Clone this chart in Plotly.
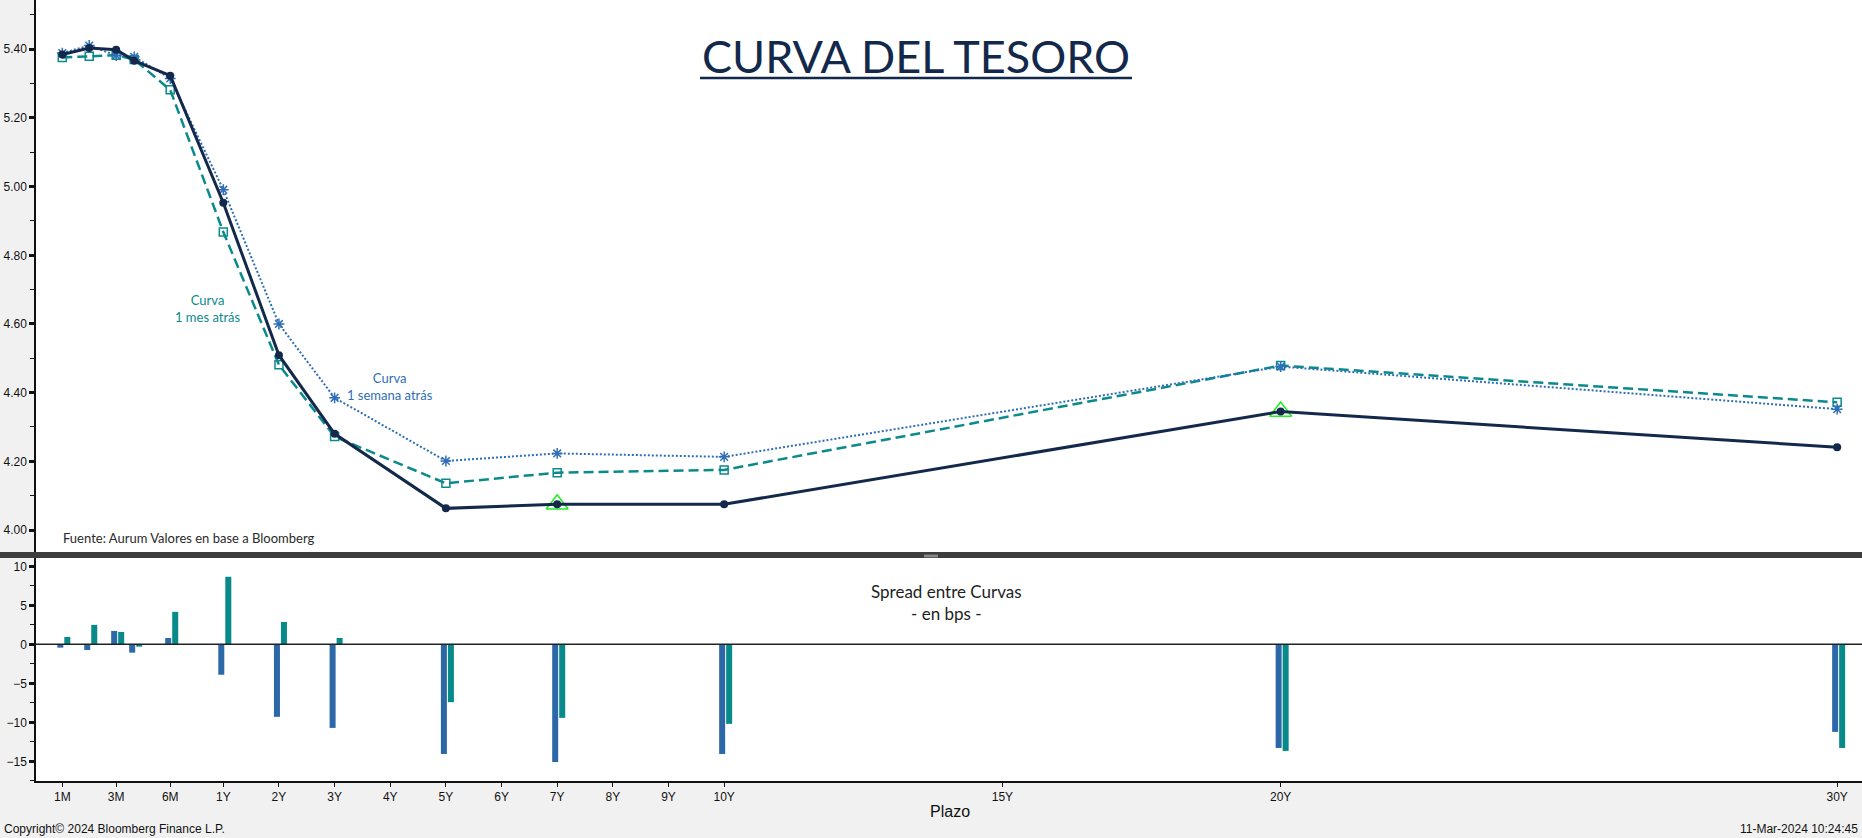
import plotly.graph_objects as go

# ---------------- data ----------------
tenor_labels = ["1M", "2M", "3M", "4M", "6M", "1Y", "2Y", "3Y", "5Y", "7Y", "10Y", "20Y", "30Y"]
tenor_months = [1, 2, 3, 4, 6, 12, 24, 36, 60, 84, 120, 240, 360]

curve_now = [5.385, 5.404, 5.399, 5.367, 5.323, 4.953, 4.509, 4.280, 4.063, 4.075, 4.075, 4.345, 4.241]
curve_1w = [5.389, 5.411, 5.382, 5.378, 5.315, 4.991, 4.600, 4.385, 4.201, 4.223, 4.213, 4.476, 4.352]
curve_1m = [5.376, 5.380, 5.383, 5.370, 5.282, 4.868, 4.481, 4.272, 4.136, 4.167, 4.175, 4.479, 4.372]

spread_1w = [-0.43, -0.73, 1.71, -1.07, 0.81, -3.90, -9.30, -10.72, -14.06, -15.09, -14.06, -13.29, -11.23]
spread_1m = [0.94, 2.49, 1.59, -0.30, 4.16, 8.66, 2.87, 0.81, -7.42, -9.43, -10.20, -13.67, -13.29]

marked_tenors = ["7Y", "20Y"]

axis_tick_labels = ["1M", "3M", "6M", "1Y", "2Y", "3Y", "4Y", "5Y", "6Y", "7Y", "8Y", "9Y", "10Y", "15Y", "20Y", "30Y"]
axis_tick_months = [1, 3, 6, 12, 24, 36, 48, 60, 72, 84, 96, 108, 120, 180, 240, 360]

top_yticks = [4.0, 4.2, 4.4, 4.6, 4.8, 5.0, 5.2, 5.4]
bottom_yticks = [-15, -10, -5, 0, 5, 10]

# ---------------- tenor scale (Bloomberg-like piecewise spacing) ----------------
ANCHORS = [(1, -1.893), (3, -0.925), (6, 0.046), (12, 1.0)]


def tenor_scale(m):
    if m >= 12:
        return m / 12.0
    for (m0, p0), (m1, p1) in zip(ANCHORS[:-1], ANCHORS[1:]):
        if m0 <= m <= m1:
            return p0 + (p1 - p0) * (m - m0) / (m1 - m0)
    return ANCHORS[0][1]


x_pos = [tenor_scale(m) for m in tenor_months]
tick_pos = [tenor_scale(m) for m in axis_tick_months]
mark_idx = [tenor_labels.index(t) for t in marked_tenors]

# ---------------- layout helpers ----------------
W, H = 1862, 838
ML, MB = 36, 57
PW, PH = W - ML, H - MB


def pxx(px):
    return (px - ML) / PW


def pxy(py):
    return (PH - py) / PH


C_NOW = "#13294b"
C_1W = "#2f6eb5"
C_1M = "#0b8a8c"
C_BAR_W = "#2c68a8"
C_BAR_M = "#078a89"
TXT_FONT = "Lato"
AX_FONT = "Liberation Sans"

fig = go.Figure()

# top panel lines
fig.add_trace(go.Scatter(
    x=x_pos, y=curve_1m, mode="lines+markers", name="Curva 1 mes atrás",
    line=dict(color=C_1M, width=2.5, dash="10px,5px"),
    marker=dict(symbol="square-open", size=8, color=C_1M, line=dict(width=1.5, color=C_1M)),
    xaxis="x", yaxis="y"))
fig.add_trace(go.Scatter(
    x=x_pos, y=curve_1w, mode="lines+markers", name="Curva 1 semana atrás",
    line=dict(color=C_1W, width=2, dash="2px,2px"),
    marker=dict(symbol="asterisk-open", size=9, color=C_1W, line=dict(width=1.5, color=C_1W)),
    xaxis="x", yaxis="y"))
fig.add_trace(go.Scatter(
    x=[x_pos[i] for i in mark_idx], y=[curve_now[i] for i in mark_idx], mode="markers",
    marker=dict(symbol="triangle-up-open", size=19, color="#1ef01e", line=dict(width=1.5, color="#1ef01e")),
    xaxis="x", yaxis="y", showlegend=False))
fig.add_trace(go.Scatter(
    x=x_pos, y=curve_now, mode="lines+markers", name="Curva actual",
    line=dict(color=C_NOW, width=3),
    marker=dict(symbol="circle", size=8, color=C_NOW),
    xaxis="x", yaxis="y"))

# bottom panel bars
BAR_W = 0.108
fig.add_trace(go.Bar(
    x=x_pos, y=spread_1w, width=BAR_W, offset=-0.09, marker=dict(color=C_BAR_W, line=dict(width=0)),
    xaxis="x2", yaxis="y2", name="Spread 1 semana"))
fig.add_trace(go.Bar(
    x=x_pos, y=spread_1m, width=BAR_W, offset=0.036, marker=dict(color=C_BAR_M, line=dict(width=0)),
    xaxis="x2", yaxis="y2", name="Spread 1 mes"))

x_range = [1 - (223.3 - ML) / 55.65, 1 + (W - 223.3) / 55.65]

shapes = [
    # separator band between panels
    dict(type="rect", xref="paper", yref="paper", x0=pxx(0), x1=1.0, y0=pxy(558), y1=pxy(552),
         fillcolor="#3d3d3d", line=dict(width=0), layer="above"),
    dict(type="line", xref="paper", yref="paper", x0=pxx(924), x1=pxx(938), y0=pxy(555.2), y1=pxy(555.2),
         line=dict(color="#a8a8a8", width=1), layer="above"),
    dict(type="line", xref="paper", yref="paper", x0=pxx(924), x1=pxx(938), y0=pxy(556.8), y1=pxy(556.8),
         line=dict(color="#a8a8a8", width=1), layer="above"),
    # title underline
    dict(type="line", xref="paper", yref="paper", x0=pxx(700), x1=pxx(1132), y0=pxy(78), y1=pxy(78),
         line=dict(color=C_NOW, width=2.5)),
    # zero line in bottom panel
    dict(type="line", xref="paper", yref="y2", x0=0, x1=1, y0=0, y1=0,
         line=dict(color="#222222", width=1.5), layer="above"),
]

annotations = [
    dict(text="CURVA DEL TESORO", xref="paper", yref="paper", x=pxx(916), y=pxy(56),
         xanchor="center", yanchor="middle", showarrow=False,
         font=dict(family=TXT_FONT, size=45, color=C_NOW)),
    dict(text="Curva<br>1 mes atrás", xref="paper", yref="paper", x=pxx(208), y=pxy(308.5),
         xanchor="center", yanchor="middle", showarrow=False, align="center",
         font=dict(family=TXT_FONT, size=13, color=C_1M)),
    dict(text="Curva<br>1 semana atrás", xref="paper", yref="paper", x=pxx(390), y=pxy(387),
         xanchor="center", yanchor="middle", showarrow=False, align="center",
         font=dict(family=TXT_FONT, size=13, color=C_1W)),
    dict(text="Fuente: Aurum Valores en base a Bloomberg", xref="paper", yref="paper", x=pxx(61), y=pxy(538),
         xanchor="left", yanchor="middle", showarrow=False,
         font=dict(family=TXT_FONT, size=13, color="#2a2a2a")),
    dict(text="Spread entre Curvas<br>- en bps -", xref="paper", yref="paper", x=pxx(946), y=pxy(602),
         xanchor="center", yanchor="middle", showarrow=False, align="center",
         font=dict(family=TXT_FONT, size=17, color="#1e1e1e")),
    dict(text="Plazo", xref="paper", yref="paper", x=pxx(950), y=pxy(811),
         xanchor="center", yanchor="middle", showarrow=False,
         font=dict(family=AX_FONT, size=16, color="#111111")),
    dict(text="Copyright© 2024 Bloomberg Finance L.P.", xref="paper", yref="paper", x=pxx(2), y=pxy(829),
         xanchor="left", yanchor="middle", showarrow=False,
         font=dict(family=AX_FONT, size=12, color="#111111")),
    dict(text="11-Mar-2024 10:24:45", xref="paper", yref="paper", x=pxx(1860), y=pxy(829),
         xanchor="right", yanchor="middle", showarrow=False,
         font=dict(family=AX_FONT, size=12, color="#111111")),
]

fig.update_layout(
    width=W, height=H,
    margin=dict(l=ML, r=0, t=0, b=MB, pad=0),
    paper_bgcolor="#f1f1f1", plot_bgcolor="#ffffff",
    showlegend=False, barmode="overlay",
    xaxis=dict(domain=[0, 1], range=x_range, anchor="y", showticklabels=False, ticks="",
               showgrid=False, zeroline=False, showline=False),
    yaxis=dict(domain=[pxy(552), 1], range=[4.0 - 22 / 343.4, 5.40 + 49.3 / 343.4], anchor="x",
               tickvals=top_yticks, tickformat=".2f", ticks="outside", ticklen=5, tickwidth=2.5,
               tickcolor="#111111", showline=True, linecolor="#111111", linewidth=1.5,
               showgrid=False, zeroline=False,
               tickfont=dict(family=AX_FONT, size=12, color="#111111"),
               minor=dict(dtick=0.1, tick0=4.0, ticks="outside", ticklen=4, tickwidth=1, tickcolor="#111111",
                          showgrid=False)),
    xaxis2=dict(domain=[0, 1], range=x_range, anchor="y2", matches="x",
                tickvals=tick_pos, ticktext=axis_tick_labels, ticks="outside", ticklen=4, tickwidth=1,
                tickcolor="#111111", showline=True, linecolor="#111111", linewidth=1.5, mirror=False,
                showgrid=False, zeroline=False,
                tickfont=dict(family=AX_FONT, size=12, color="#111111")),
    yaxis2=dict(domain=[0, pxy(558)], range=[-(781 - 644.3) / 7.8, (644.3 - 558) / 7.8], anchor="x2",
                tickvals=bottom_yticks, ticks="outside", ticklen=5, tickwidth=2.5, tickcolor="#111111",
                showline=True, linecolor="#111111", linewidth=1.5, showgrid=False, zeroline=False,
                tickfont=dict(family=AX_FONT, size=12, color="#111111"),
                minor=dict(dtick=2.5, tick0=0, ticks="outside", ticklen=4, tickwidth=1, tickcolor="#111111",
                           showgrid=False)),
    shapes=shapes,
    annotations=annotations,
)

fig.write_html("out.html")
